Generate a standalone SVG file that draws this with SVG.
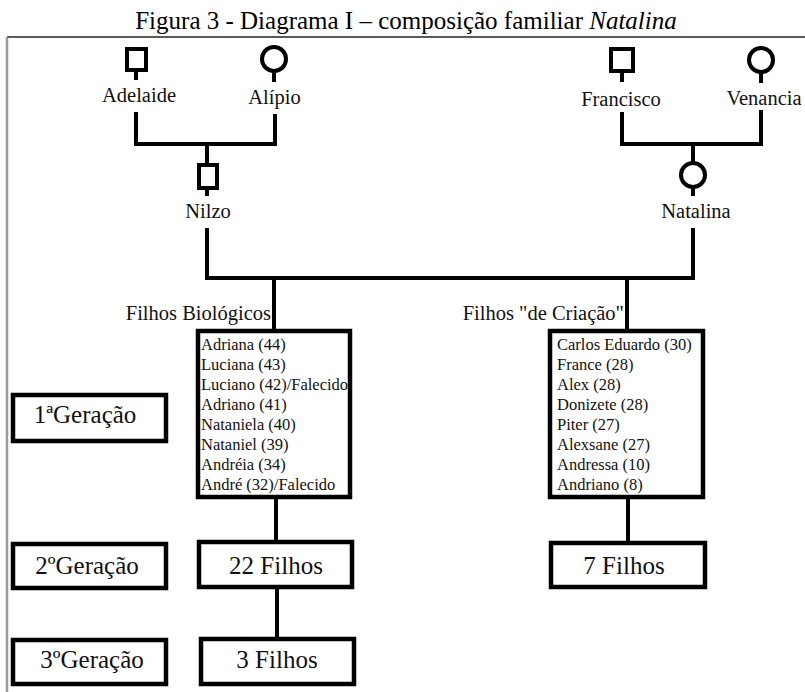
<svg xmlns="http://www.w3.org/2000/svg" width="805" height="692" viewBox="0 0 805 692">
<style>
  .bg { fill: #ffffff; }
  .frame-top { stroke: #222; stroke-width: 1.5; fill: none; }
  .frame-left { stroke: #999; stroke-width: 2.5; fill: none; }
  .title { font-family: "Liberation Serif", "Times New Roman", serif; font-size: 25px; fill: #000; }
  .sym { fill: #fff; stroke: #000; stroke-width: 4; }
  .conn { stroke: #000; stroke-width: 4; fill: none; stroke-linecap: butt; }
  .box { fill: #fff; stroke: #000; stroke-width: 4.5; }
  .name { font-family: "Liberation Serif", "Times New Roman", serif; font-size: 20.5px; fill: #111; text-anchor: middle; }
  .group-label { font-family: "Liberation Serif", "Times New Roman", serif; font-size: 20.5px; fill: #111; text-anchor: end; }
  .list { font-family: "Liberation Serif", "Times New Roman", serif; font-size: 16.5px; fill: #111; }
  .big { font-family: "Liberation Serif", "Times New Roman", serif; font-size: 25px; fill: #111; text-anchor: middle; }
</style>
<rect class="bg" x="0" y="0" width="805" height="692"/>
<text class="title" x="406" y="29" text-anchor="middle">Figura 3 - Diagrama I – composição familiar <tspan font-style="italic">Natalina</tspan></text>
<line class="frame-top" x1="7" y1="37" x2="805" y2="37"/>
<line class="frame-left" x1="7" y1="37" x2="7" y2="692"/>

<g id="connectors">
  <path class="conn" d="M136,70 V80"/>
  <path class="conn" d="M274,71 V82"/>
  <path class="conn" d="M136,112 V144 H275 V114"/>
  <path class="conn" d="M207,144 V165"/>
  <path class="conn" d="M207,188 V196"/>
  <path class="conn" d="M622,71 V82"/>
  <path class="conn" d="M761,73 V83"/>
  <path class="conn" d="M622,112 V144 H761 V110"/>
  <path class="conn" d="M693,144 V163"/>
  <path class="conn" d="M693,187 V196"/>
  <path class="conn" d="M207,228 V278 H693 V228"/>
  <path class="conn" d="M274,278 V329"/>
  <path class="conn" d="M627,278 V329"/>
  <path class="conn" d="M276,497 V542"/>
  <path class="conn" d="M277,587 V639"/>
  <path class="conn" d="M628,497 V543"/>
</g>

<g id="adelaide">
  <rect class="sym" x="127" y="49" width="19" height="21"/>
  <text class="name" x="139" y="102">Adelaide</text>
</g>
<g id="alipio">
  <circle class="sym" cx="274" cy="59" r="12"/>
  <text class="name" x="274.5" y="104">Alípio</text>
</g>
<g id="nilzo">
  <rect class="sym" x="199" y="165" width="18" height="23"/>
  <text class="name" x="208" y="218">Nilzo</text>
</g>
<g id="francisco">
  <rect class="sym" x="611" y="49" width="22" height="22"/>
  <text class="name" x="621" y="106">Francisco</text>
</g>
<g id="venancia">
  <circle class="sym" cx="761" cy="60" r="12"/>
  <text class="name" x="764" y="105">Venancia</text>
</g>
<g id="natalina">
  <circle class="sym" cx="693" cy="175" r="12"/>
  <text class="name" x="696" y="218">Natalina</text>
</g>

<g id="filhos-biologicos">
  <text class="group-label" x="271" y="320">Filhos Biológicos</text>
  <rect class="box" x="198" y="331" width="152" height="166"/>
  <text class="list" x="201" y="350">Adriana (44)</text>
  <text class="list" x="201" y="370">Luciana (43)</text>
  <text class="list" x="201" y="390">Luciano (42)/Falecido</text>
  <text class="list" x="201" y="410">Adriano (41)</text>
  <text class="list" x="201" y="430">Nataniela (40)</text>
  <text class="list" x="201" y="450">Nataniel (39)</text>
  <text class="list" x="201" y="470">Andréia (34)</text>
  <text class="list" x="201" y="490">André (32)/Falecido</text>
</g>

<g id="filhos-criacao">
  <text class="group-label" x="624" y="320">Filhos "de Criação"</text>
  <rect class="box" x="550" y="331" width="153" height="166"/>
  <text class="list" x="557" y="350">Carlos Eduardo (30)</text>
  <text class="list" x="557" y="370">France (28)</text>
  <text class="list" x="557" y="390">Alex (28)</text>
  <text class="list" x="557" y="410">Donizete (28)</text>
  <text class="list" x="557" y="430">Piter (27)</text>
  <text class="list" x="557" y="450">Alexsane (27)</text>
  <text class="list" x="557" y="470">Andressa (10)</text>
  <text class="list" x="557" y="490">Andriano (8)</text>
</g>

<g id="geracao-1">
  <rect class="box" x="13" y="395" width="153" height="46"/>
  <text class="big" x="85" y="423">1ªGeração</text>
</g>
<g id="geracao-2">
  <rect class="box" x="13" y="544" width="153" height="44"/>
  <text class="big" x="87" y="574">2ºGeração</text>
</g>
<g id="geracao-3">
  <rect class="box" x="13" y="640" width="153" height="44"/>
  <text class="big" x="92" y="668">3ºGeração</text>
</g>

<g id="filhos-22">
  <rect class="box" x="199" y="542" width="153" height="45"/>
  <text class="big" x="276" y="574">22 Filhos</text>
</g>
<g id="filhos-3">
  <rect class="box" x="201" y="639" width="153" height="45"/>
  <text class="big" x="277" y="668">3 Filhos</text>
</g>
<g id="filhos-7">
  <rect class="box" x="551" y="543" width="154" height="44"/>
  <text class="big" x="624" y="574">7 Filhos</text>
</g>
</svg>
